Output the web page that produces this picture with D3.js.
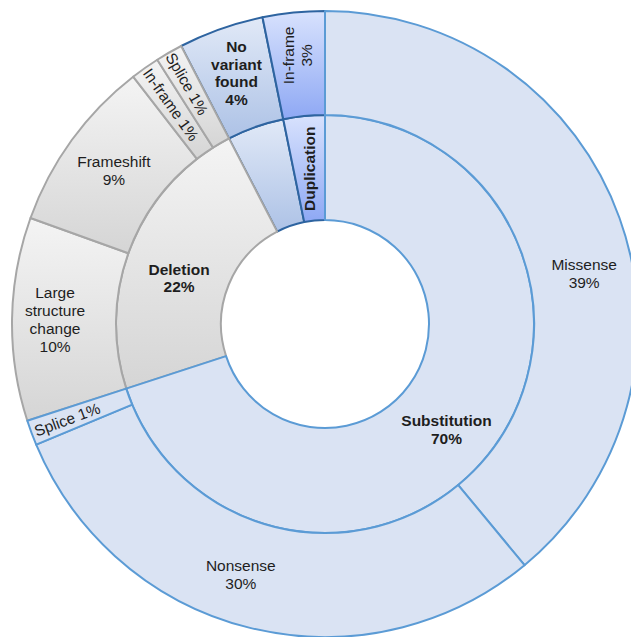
<!DOCTYPE html>
<html><head><meta charset="utf-8">
<script src="https://cdn.jsdelivr.net/npm/d3@7"></script>
<style>body{margin:0;background:#fff;overflow:hidden}</style>
</head><body>
<svg id="chart" width="631" height="637"></svg>
<script>
// ---- data ----
const innerCategories = ["Substitution", "Deletion", "No variant found", "Duplication"];
const innerLabels = ["Substitution|70%", "Deletion|22%", "", "Duplication"];
const outerParents = ["Substitution", "Substitution", "Substitution", "Deletion", "Deletion", "Deletion", "Deletion", "No variant found", "Duplication"];
const outerCategories = ["Missense", "Nonsense", "Splice", "Large structure change", "Frameshift", "In-frame", "Splice", "No variant found", "In-frame"];
const outerValues = [39, 29.7, 1.3, 10.5, 9, 1.5, 1.4, 4.4, 3.2];
const outerLabels = ["Missense|39%", "Nonsense|30%", "Splice 1%", "Large|structure|change|10%", "Frameshift|9%", "In-frame 1%", "Splice 1%", "No|variant|found|4%", "In-frame|3%"];

// inner values derived from children
const innerValues = innerCategories.map(c => d3.sum(outerValues.filter((v, i) => outerParents[i] === c)));

// ---- styling / layout ----
const W = 631, H = 637, cx = 325, cy = 324;
const r0 = 104, r1 = 209, r2 = 313;
const famStyle = {
  "Substitution": {top: "#dae3f3", bot: "#dae3f3", stroke: "#5b9bd5", order: 3},
  "Deletion": {top: "#f4f4f4", bot: "#d5d5d5", stroke: "#a6a6a6", order: 2},
  "No variant found": {top: "#e1e9f7", bot: "#adc2e6", stroke: "#2e64a0", order: 0},
  "Duplication": {top: "#d8e2fd", bot: "#8ea8f4", stroke: "#2e64a0", order: 1}
};
// label tweaks (angle overrides in degrees, radius, rotation mode)
const innerLabelCfg = [
  {angle: 131, r: 161, bold: true},
  {angle: 287.5, r: 153, bold: true},
  {},
  {r: 156, bold: true, rot: -90}
];
const outerLabelCfg = [
  {angle: 79, r: 264},
  {angle: 198.6, r: 264},
  {r: 275, rot: "radial"},
  {r: 270},
  {r: 261},
  {r: 268, rot: "radial"},
  {r: 277, rot: "radial"},
  {r: 266, bold: true},
  {r: 270, rot: -90}
];

const svg = d3.select("#chart");
const defs = svg.append("defs");
const g = svg.append("g").attr("transform", `translate(${cx},${cy})`);

const pie = d3.pie().sort(null).value(d => d).startAngle(0).endAngle(2 * Math.PI);
const innerArcs = pie(innerValues);
const outerArcs = pie(outerValues);
const arcInner = d3.arc().innerRadius(r0).outerRadius(r1);
const arcOuter = d3.arc().innerRadius(r1).outerRadius(r2);

const segs = [];
innerArcs.forEach((a, i) => segs.push({a, fam: innerCategories[i], arc: arcInner, id: "in" + i}));
outerArcs.forEach((a, i) => segs.push({a, fam: outerParents[i], arc: arcOuter, id: "out" + i}));
segs.sort((p, q) => famStyle[p.fam].order - famStyle[q.fam].order);

segs.forEach(s => {
  const st = famStyle[s.fam];
  const grad = defs.append("linearGradient").attr("id", "g" + s.id)
    .attr("x1", 0).attr("y1", 0).attr("x2", 0).attr("y2", 1);
  grad.append("stop").attr("offset", "0%").attr("stop-color", st.top);
  grad.append("stop").attr("offset", "100%").attr("stop-color", st.bot);
  g.append("path").attr("d", s.arc(s.a))
    .attr("fill", `url(#g${s.id})`)
    .attr("stroke", st.stroke).attr("stroke-width", 2).attr("stroke-linejoin", "round");
});

function drawLabel(a, text, cfg) {
  if (!text) return;
  const mid = (a.startAngle + a.endAngle) / 2;
  const ang = cfg.angle != null ? cfg.angle * Math.PI / 180 : mid;
  const x = cfg.r * Math.sin(ang), y = -cfg.r * Math.cos(ang);
  let rot = 0;
  if (cfg.rot === "radial") rot = ang * 180 / Math.PI - 270;
  else if (typeof cfg.rot === "number") rot = cfg.rot;
  const lines = text.split("|");
  const lh = cfg.bold ? 17.5 : 18;
  const t = g.append("text")
    .attr("transform", `translate(${x},${y}) rotate(${rot})`)
    .attr("text-anchor", "middle")
    .attr("font-family", "Liberation Sans, Arial, sans-serif")
    .attr("font-size", 15.5)
    .attr("font-weight", cfg.bold ? "bold" : "normal")
    .attr("fill", "#1e1e1e");
  lines.forEach((l, i) => {
    t.append("tspan").attr("x", 0)
      .attr("y", (i - (lines.length - 1) / 2) * lh)
      .attr("dy", "0.35em").text(l);
  });
}
innerArcs.forEach((a, i) => drawLabel(a, innerLabels[i], innerLabelCfg[i]));
outerArcs.forEach((a, i) => drawLabel(a, outerLabels[i], outerLabelCfg[i]));
</script>
</body></html>
